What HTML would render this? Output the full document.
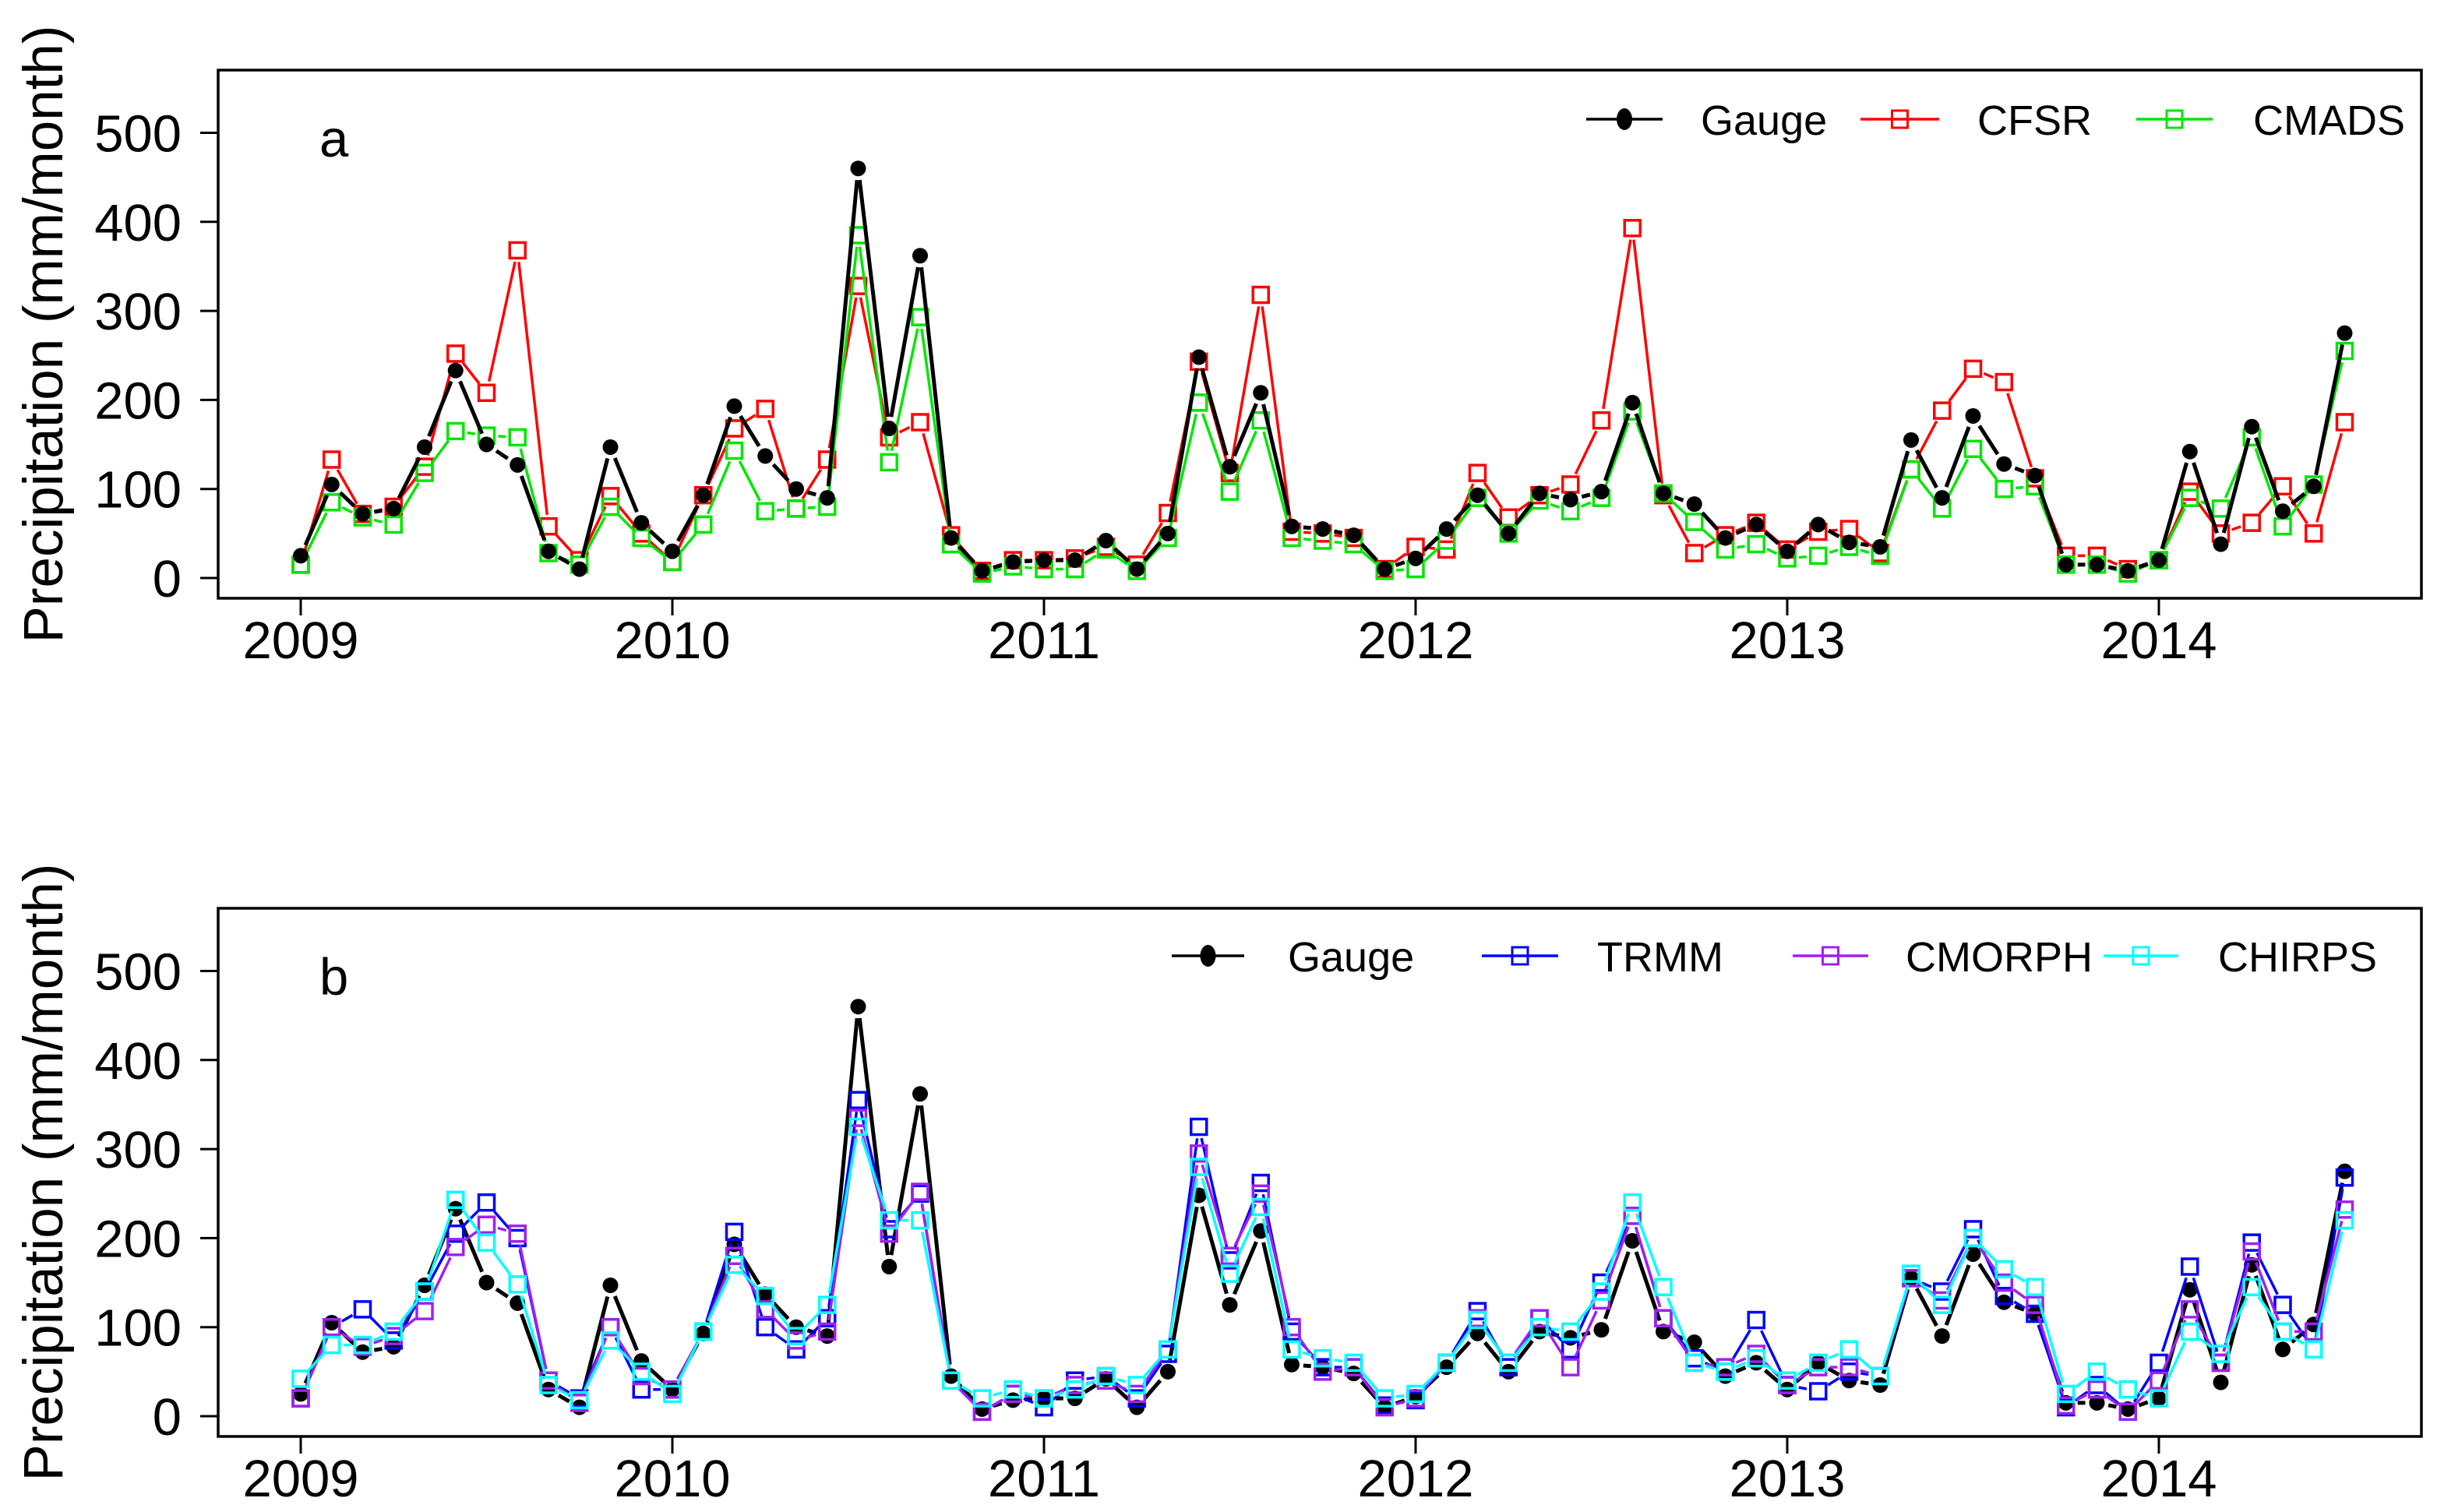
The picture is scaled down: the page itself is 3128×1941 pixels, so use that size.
<!DOCTYPE html>
<html><head><meta charset="utf-8"><style>
html,body{margin:0;padding:0;background:#fff;}
svg{display:block;font-family:"Liberation Sans",sans-serif;}
</style></head><body>
<svg id="chart" xmlns="http://www.w3.org/2000/svg" width="3128" height="1941" viewBox="0 0 3128 1941"></svg>
<script>
const years = [2009, 2010, 2011, 2012, 2013, 2014];
const yTicks = [0, 100, 200, 300, 400, 500];
const gauge = [25,105,72,78,147,233,150,127,30,10,147,62, 30,93,193,137,100,90,460,168,362,45,8,18, 20,20,42,10,50,248,125,208,58,55,48,10, 22,55,93,50,95,88,97,197,95,83,45,60, 30,60,40,35,155,90,182,128,115,15,15,8, 20,142,38,170,75,103,275];
const cfsr = [15,133,72,80,125,252,208,368,58,20,92,50, 18,93,168,190,78,133,328,158,175,48,8,20, 20,22,35,15,73,243,118,318,52,50,45,10, 35,32,118,68,93,105,177,393,93,28,48,62, 32,52,55,28,122,188,235,220,112,25,25,10, 20,97,50,62,103,50,175];
const cmads = [15,85,68,60,118,165,160,158,28,15,80,45, 18,60,143,75,78,80,385,130,293,38,5,13, 10,10,32,8,45,197,97,177,45,42,38,8, 10,42,90,50,87,75,90,187,95,63,32,38, 22,25,35,25,122,78,145,100,103,15,15,5, 20,90,78,158,58,105,255];
const trmm = [20,100,120,85,140,205,240,200,40,20,100,30, 30,95,207,100,75,110,355,210,250,40,5,25, 10,40,45,20,70,325,175,262,95,55,55,12, 18,60,118,55,110,75,150,225,110,65,50,108, 35,28,50,45,155,140,210,135,115,10,35,5, 60,168,60,195,125,75,268];
const cmorph = [20,100,78,90,118,190,215,205,40,15,100,45, 30,95,180,120,85,95,335,205,252,40,5,25, 20,35,40,25,75,295,180,250,100,50,55,10, 20,60,110,60,110,55,130,225,110,60,55,70, 35,55,55,45,155,130,200,150,125,12,30,5, 40,120,60,185,95,95,232];
const chirps = [42,80,80,95,140,243,195,148,35,18,85,50, 25,95,170,135,90,125,325,220,220,40,20,30, 20,30,45,35,75,280,160,235,75,65,60,20, 25,60,108,60,100,95,140,240,145,60,50,65, 40,60,75,45,160,125,200,165,145,25,50,30, 20,95,70,145,95,75,220];

const NS = "http://www.w3.org/2000/svg";
const svg = document.getElementById('chart');
function mk(tag, attrs, parent){
  const e = document.createElementNS(NS, tag);
  for (const k in attrs) e.setAttribute(k, attrs[k]);
  (parent||svg).appendChild(e);
  return e;
}
const X0 = 386, PER_YEAR = 477;
function xScale(i){ return X0 + i * PER_YEAR / 12; }
function xYear(y){ return X0 + (y - 2009) * PER_YEAR; }

function panel(off, label, series, legendItems){
  const y0 = 742 + off, per100 = 114.3;
  const yScale = v => y0 - v * per100 / 100;
  const g = mk('g', {});
  
  
  const box = mk('rect', {x:280, y:90+off, width:2828, height:678, fill:'none', stroke:'#000', 'stroke-width':3.5}, g);
  
  
  yTicks.forEach(t => {
    const ty = yScale(t);
    const tk = mk('line', {x1:257, x2:280, y1:ty, y2:ty, stroke:'#000', 'stroke-width':3}, g);
    
    
    const tl = mk('text', {x:233, y:ty+24, 'text-anchor':'end', 'font-size':67}, g);
    tl.textContent = t;
    
    
  });
  years.forEach(yr => {
    const tx = xYear(yr);
    const tk = mk('line', {x1:tx, x2:tx, y1:768+off, y2:790+off, stroke:'#000', 'stroke-width':3}, g);
    
    
    const tl = mk('text', {x:tx, y:845+off, 'text-anchor':'middle', 'font-size':67}, g);
    tl.textContent = yr;
    
    
  });
  const yt = mk('text', {x:0, y:0, 'text-anchor':'middle', 'font-size':71, transform:'translate(80,' + (429+off) + ') rotate(-90)'}, g);
  yt.textContent = 'Precipitation (mm/month)';
  
  
  const pl = mk('text', {x:410, y:201+off, 'font-size':67}, g);
  pl.textContent = label;
  
  

  series.forEach(s => {
    let d = '';
    const gap = 15;
    for (let i = 0; i < s.data.length - 1; i++) {
      const ax = xScale(i), ay = yScale(s.data[i]);
      const bx = xScale(i+1), by = yScale(s.data[i+1]);
      const L = Math.hypot(bx-ax, by-ay);
      if (L <= 2*gap) continue;
      const ux = (bx-ax)/L, uy = (by-ay)/L;
      d += 'M' + (ax+ux*gap).toFixed(1) + ',' + (ay+uy*gap).toFixed(1) + 'L' + (bx-ux*gap).toFixed(1) + ',' + (by-uy*gap).toFixed(1);
    }
    const ln = mk('path', {d:d, fill:'none', stroke:s.color, 'stroke-width':s.w}, g);
    
    
    s.data.forEach((v,i) => {
      let m;
      if (s.dot) {
        m = mk('circle', {cx:xScale(i), cy:yScale(v), r:10, fill:'#000'}, g);
      } else {
        m = mk('rect', {x:xScale(i)-10, y:yScale(v)-10, width:20, height:20, fill:'none', stroke:s.color, 'stroke-width':3.5}, g);
      }
      
      
    });
  });

  legendItems.forEach(li => {
    const ly = li.y + off;
    const lg = mk('g', {}, g);
    
    
    mk('line', {x1:li.x1, x2:li.x2, y1:ly, y2:ly, stroke:li.color, 'stroke-width':3.5}, lg);
    const cx = (li.x1 + li.x2)/2;
    if (li.dot) mk('ellipse', {cx:cx, cy:ly, rx:10, ry:14, fill:'#000'}, lg);
    else mk('rect', {x:cx-10, y:ly-11, width:20, height:22, fill:'none', stroke:li.color, 'stroke-width':3}, lg);
    const t = mk('text', {x:li.tx, y:ly+20, 'font-size':54}, lg);
    t.textContent = li.text;
  });
}

panel(0, 'a', [
  {name:'cfsr', data:cfsr, color:'#ff0000', w:3.5},
  {name:'cmads', data:cmads, color:'#00e600', w:3.5},
  {name:'gauge', data:gauge, color:'#000', w:5, dot:true}
], [
  {name:'gauge', text:'Gauge', color:'#000', dot:true, x1:2036, x2:2134, tx:2183, y:153},
  {name:'cfsr', text:'CFSR', color:'#ff0000', x1:2388, x2:2489, tx:2538, y:153},
  {name:'cmads', text:'CMADS', color:'#00e600', x1:2742, x2:2840, tx:2892, y:153}
]);
panel(1076, 'b', [
  {name:'gauge', data:gauge, color:'#000', w:5, dot:true},
  {name:'trmm', data:trmm, color:'#0000ff', w:3.5},
  {name:'cmorph', data:cmorph, color:'#a020f0', w:3.5},
  {name:'chirps', data:chirps, color:'#00ffff', w:3.5}
], [
  {name:'gauge', text:'Gauge', color:'#000', dot:true, x1:1504, x2:1597, tx:1653, y:151},
  {name:'trmm', text:'TRMM', color:'#0000ff', x1:1902, x2:2000, tx:2050, y:151},
  {name:'cmorph', text:'CMORPH', color:'#a020f0', x1:2301, x2:2398, tx:2446, y:151},
  {name:'chirps', text:'CHIRPS', color:'#00ffff', x1:2700, x2:2796, tx:2847, y:151}
]);
</script>
</body></html>
